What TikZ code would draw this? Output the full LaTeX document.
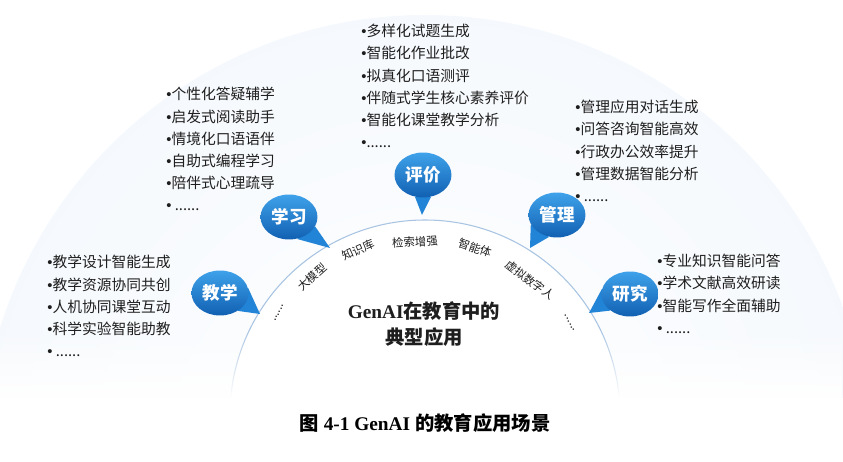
\documentclass[tikz,border=0pt]{standalone}
\usepackage{fontspec}
\setmainfont{Liberation Serif}
\newfontfamily\cjk{Noto Sans CJK SC}
\newfontfamily\latinsans{Liberation Sans}
\newcommand\bul{{\latinsans\char"2022}}
\usetikzlibrary{shapes.geometric,backgrounds,fadings}
\definecolor{BubbleTop}{HTML}{3FA2EA}
\definecolor{BubbleBot}{HTML}{1160B2}
\definecolor{TailBlue}{HTML}{2284D6}
\definecolor{ArcLine}{HTML}{A9C4E2}
\definecolor{HaloBlue}{HTML}{E4EEF9}
\definecolor{DiscBlue}{HTML}{D9E5F2}
\definecolor{InkGray}{HTML}{1E1E1E}
\pgfdeclareradialshading{halo}{\pgfpoint{0bp}{0bp}}{color(0bp)=(white); color(28bp)=(white!60!HaloBlue); color(50bp)=(HaloBlue)}
\pgfdeclareradialshading{core}{\pgfpoint{0bp}{0bp}}{color(0bp)=(white); color(36bp)=(white); color(50bp)=(DiscBlue)}

\begin{document}
\begin{tikzpicture}[
  x=0.02cm, y=-0.02cm,
  bubble/.style={
    ellipse,
    top color=BubbleTop,
    bottom color=BubbleBot,
    text=white,
    minimum width=1.14cm,
    minimum height=0.9cm,
    inner sep=0pt,
    font=\cjk\bfseries\fontsize{10}{12}\selectfont
  },
  tail/.style={fill=TailBlue},
  items/.style={anchor=north west,inner sep=0pt,align=left,text=InkGray,
    font=\cjk\fontsize{8.4}{12.6}\selectfont},
  arclabel/.style={inner sep=0pt,text=InkGray,font=\cjk\fontsize{6.5}{7}\selectfont}
]
\useasboundingbox (0,0) rectangle (843,462);

% speech bubbles
\node[bubble] (jiaoxue) at (220,293) {教学};
\node[bubble] (xuexi) at (289,217) {学习};
\node[bubble] (pingjia) at (423,175) {评价};
\node[bubble] (guanli) at (557,215) {管理};
\node[bubble] (yanjiu) at (630,294) {研究};
\coordinate (jiaoxueTip) at (260,314);
\coordinate (xuexiTip) at (330,248);
\coordinate (pingjiaTip) at (422,215);
\coordinate (guanliTip) at (530,248);
\coordinate (yanjiuTip) at (589,313);

% scenario lists
\node[items] (jiaoxueList) at (47,255) {\bul 教学设计智能生成\\\bul 教学资源协同共创\\\bul 人机协同课堂互动\\\bul 科学实验智能助教\\\bul\ ......};
\node[items] (xuexiList) at (166,87) {\bul 个性化答疑辅学\\\bul 启发式阅读助手\\\bul 情境化口语语伴\\\bul 自助式编程学习\\\bul 陪伴式心理疏导\\\bul\ ......};
\node[items] (pingjiaList) at (361,24) {\bul 多样化试题生成\\\bul 智能化作业批改\\\bul 拟真化口语测评\\\bul 伴随式学生核心素养评价\\\bul 智能化课堂教学分析\\\bul ......};
\node[items] (guanliList) at (575,100) {\bul 管理应用对话生成\\\bul 问答咨询智能高效\\\bul 行政办公效率提升\\\bul 管理数据智能分析\\\bul\ ......};
\node[items] (yanjiuList) at (657,254) {\bul 专业知识智能问答\\\bul 学术文献高效研读\\\bul 智能写作全面辅助\\\bul\ ......};

% technologies along the arc
\node[arclabel,rotate=42] (damoxing) at (312,277) {大模型};
\node[arclabel,rotate=24] (zhishiku) at (358,250) {知识库};
\node[arclabel,rotate=3] (jiansuo) at (415,242) {检索增强};
\node[arclabel,rotate=-19] (zhinengti) at (475,248) {智能体};
\node[arclabel,rotate=-37] (xuni) at (530,280) {虚拟数字人};
\node[arclabel,rotate=62] (leftDots) at (279,313) {......};
\node[arclabel,rotate=-62] (rightDots) at (570,323) {......};

\node[align=center,text=InkGray,font=\bfseries\fontsize{11}{14.7}\selectfont] (title)
  at (424,324) {GenAI{\cjk 在教育中的}\\{\cjk 典型应用}};
\node[text=black,font=\bfseries\fontsize{11}{13}\selectfont] (caption)
  at (425,423) {{\cjk 图} 4-1 GenAI {\cjk 的教育应用场景}};

\begin{scope}[on background layer]
  \clip (0,0) rectangle (843,398);
  \shade[shading=halo] (425,460) circle (445);
  \shadedraw[shading=core,draw=ArcLine,line width=0.6pt] (425,415) circle (195);
  \fill[white,path fading=north] (0,330) rectangle (843,398);
  \fill[tail] (jiaoxue.10) -- (jiaoxueTip) -- (jiaoxue.-45) -- cycle;
  \fill[tail] (xuexi.-20) -- (xuexiTip) -- (xuexi.-70) -- cycle;
  \fill[tail] (pingjia.-70) -- (pingjiaTip) -- (pingjia.-110) -- cycle;
  \fill[tail] (guanli.200) -- (guanliTip) -- (guanli.250) -- cycle;
  \fill[tail] (yanjiu.170) -- (yanjiuTip) -- (yanjiu.220) -- cycle;
\end{scope}
\end{tikzpicture}
\end{document}
